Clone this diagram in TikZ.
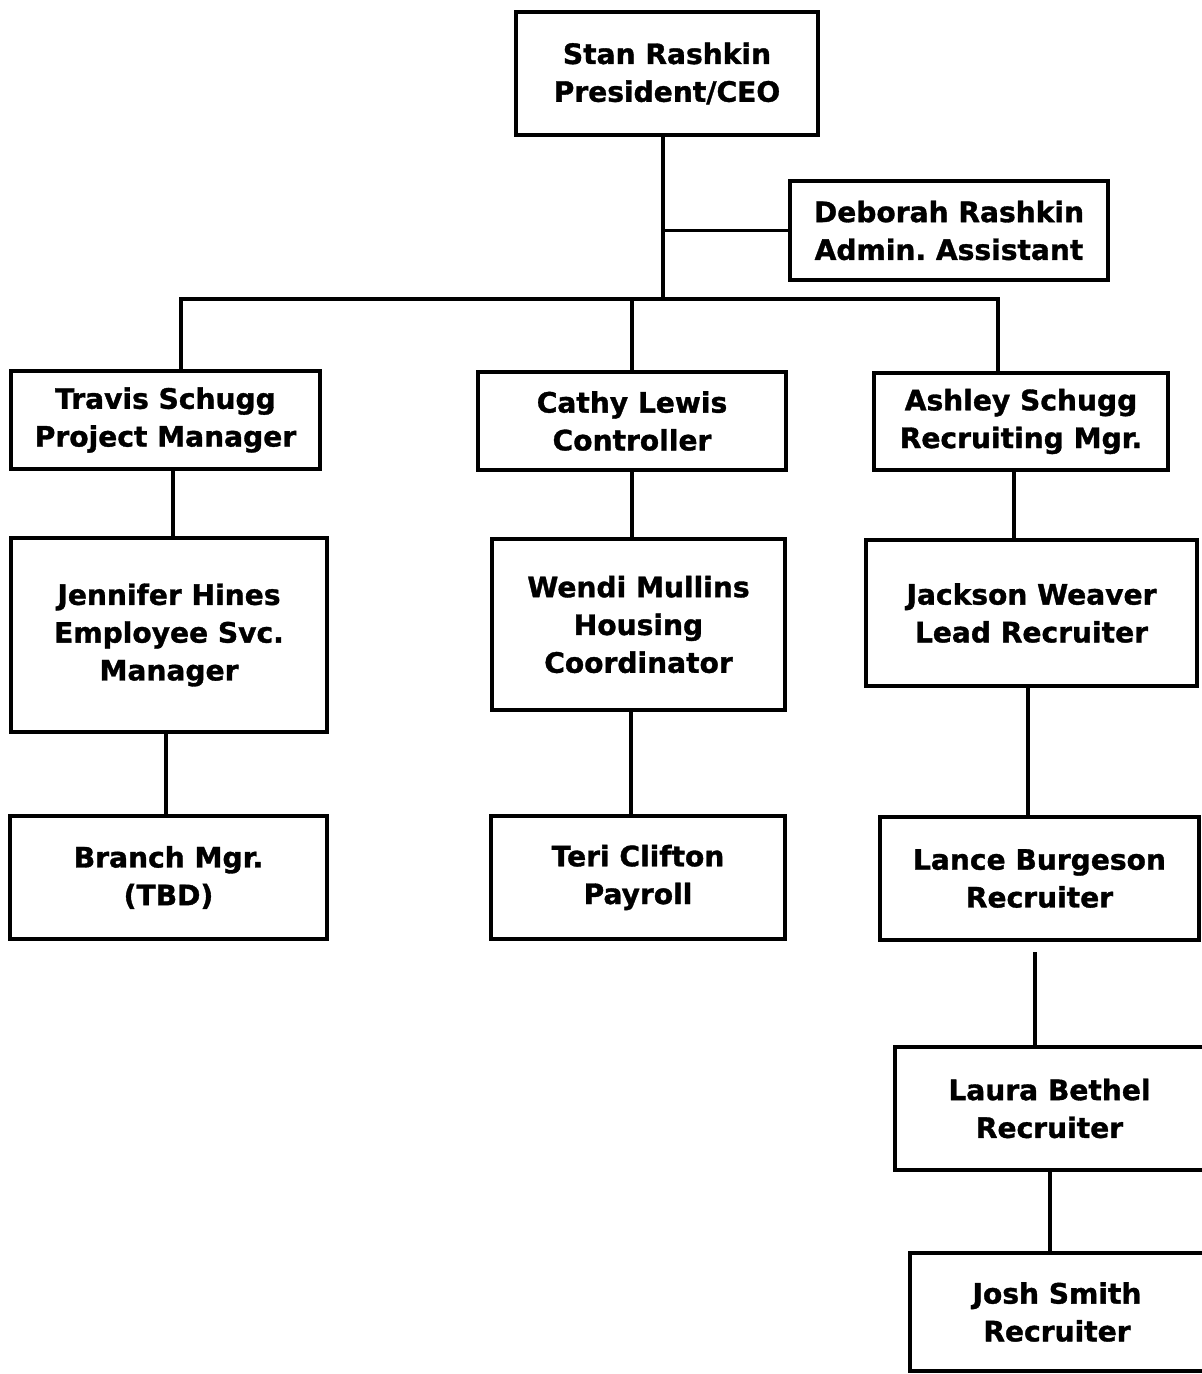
\documentclass[tikz,border=0pt]{standalone}
\usepackage{fontspec}
\setmainfont{DejaVu Sans}[BoldFeatures={FakeBold=1.2}]
\usepackage{tikz}
\usetikzlibrary{calc}
\tikzset{
  person/.style = {rectangle, draw=black, line width=2.3pt, fill=white,
                   align=center, inner sep=2pt,
                   font=\fontsize{16}{21.5}\selectfont\bfseries\frenchspacing},
  link/.style   = {draw=black, line width=1.8pt},
}

\begin{document}
\begin{tikzpicture}[x=0.02cm,y=-0.02cm]
  \useasboundingbox[fill=white] (0,0) rectangle (1202,1374);

  % top
  \node[person,minimum width=6.04cm,minimum height=2.46cm] (stan) at (667,73.5) {Stan Rashkin\\President/CEO};
  \node[person,minimum width=6.36cm,minimum height=1.98cm] (deb) at (949,230.5) {Deborah Rashkin\\Admin. Assistant};

  % managers
  \node[person,minimum width=6.18cm,minimum height=1.96cm] (travis) at (165.5,420) {Travis Schugg\\Project Manager};
  \node[person,minimum width=6.16cm,minimum height=1.96cm] (cathy) at (632,421) {Cathy Lewis\\Controller};
  \node[person,minimum width=5.88cm,minimum height=1.94cm] (ashley) at (1021,421.5) {Ashley Schugg\\Recruiting Mgr.};

  % second row
  \node[person,minimum width=6.32cm,minimum height=3.88cm] (jen) at (169,635) {Jennifer Hines\\Employee Svc.\\Manager};
  \node[person,minimum width=5.86cm,minimum height=3.42cm] (wendi) at (638.5,624.5) {Wendi Mullins\\Housing\\Coordinator};
  \node[person,minimum width=6.62cm,minimum height=2.92cm] (jackson) at (1031.5,613) {Jackson Weaver\\Lead Recruiter};

  % third row
  \node[person,minimum width=6.34cm,minimum height=2.46cm] (branch) at (168.5,877.5) {Branch Mgr.\\(TBD)};
  \node[person,minimum width=5.88cm,minimum height=2.46cm] (teri) at (638,877.5) {Teri Clifton\\Payroll};
  \node[person,minimum width=6.38cm,minimum height=2.46cm] (lance) at (1039.5,878.5) {Lance Burgeson\\Recruiter};

  % recruiters
  \node[person,minimum width=6.18cm,minimum height=2.46cm] (laura) at (1049.5,1108.5) {Laura Bethel\\Recruiter};
  \node[person,minimum width=5.88cm,minimum height=2.36cm] (josh) at (1057,1312) {Josh Smith\\Recruiter};

  \coordinate (busL) at (181,299);
  \coordinate (busR) at (998,299);
  \coordinate (trunk) at (663,299);

  \draw[link] (stan.south -| trunk) -- (trunk);
  \draw[link] (deb.west) -- (deb.west -| trunk);
  \draw[link] (busL |- travis.north) -- (busL) -- (busR) -- (busR |- ashley.north);
  \draw[link] (cathy.north |- trunk) -- (cathy.north);

  \draw[link] (173,0 |- travis.south) -- (173,0 |- jen.north);
  \draw[link] (166,0 |- jen.south) -- (166,0 |- branch.north);
  \draw[link] (cathy.south) -- (cathy.south |- wendi.north);
  \draw[link] (631,0 |- wendi.south) -- (631,0 |- teri.north);
  \draw[link] (1014,0 |- ashley.south) -- (1014,0 |- jackson.north);
  \draw[link] (1028,0 |- jackson.south) -- (1028,0 |- lance.north);
  \draw[link,shorten <=0.2cm] (1035,0 |- lance.south) -- (1035,0 |- laura.north);
  \draw[link] (1050,0 |- laura.south) -- (1050,0 |- josh.north);
\end{tikzpicture}
\end{document}
